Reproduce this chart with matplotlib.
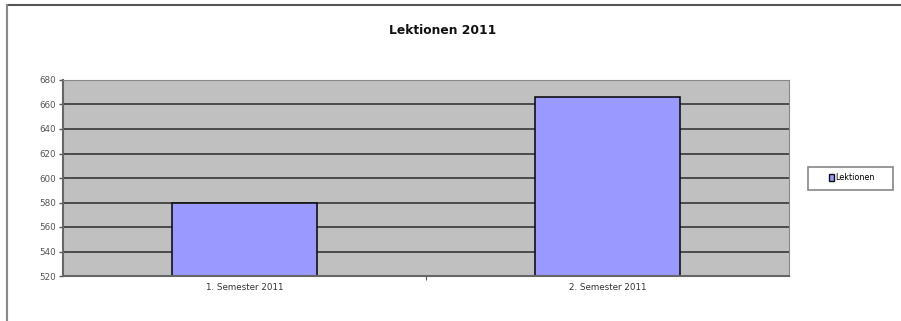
import matplotlib.pyplot as plt
from matplotlib.patches import Patch, Rectangle
from matplotlib.lines import Line2D

categories = ["1. Semester 2011", "2. Semester 2011"]
lektionen = [580, 666]
y_ticks = [520, 540, 560, 580, 600, 620, 640, 660, 680]

fig = plt.figure(figsize=(9.01, 3.21), dpi=100)
ax = fig.add_axes([63/901, 45/321, 726/901, 196/321])

ax.set_facecolor("#c0c0c0")
ax.set_axisbelow(True)
ax.yaxis.grid(True, color="#4a4a4a", linewidth=1.4)

x = range(len(categories))
ax.bar(x, lektionen, width=0.4, color="#9999ff", edgecolor="#111111", linewidth=1.2)

ax.set_xlim(-0.5, 1.5)
ax.set_ylim(520, 680)
ax.set_yticks(y_ticks)
ax.tick_params(axis="y", labelsize=6.3, colors="#555555", length=3, width=1, pad=2)

ax.set_xticks([0.5])
ax.set_xticklabels([""])
ax.set_xticks(list(x), minor=True)
ax.set_xticklabels(categories, minor=True)
ax.tick_params(axis="x", which="major", length=3, color="#555555")
ax.tick_params(axis="x", which="minor", length=0, labelsize=6.3, labelcolor="#333333", pad=5)

for side in ["top", "right"]:
    ax.spines[side].set_color("#888888")
for side in ["left", "bottom"]:
    ax.spines[side].set_color("#666666")
    ax.spines[side].set_linewidth(1.5)

fig.text(443/901, 1 - 30/321, "Lektionen 2011", ha="center", va="center",
         fontsize=8.8, fontweight="bold", color="#111111")

# legend box
fig.add_artist(Rectangle((808/901, 1 - 190/321), 85/901, 23/321, transform=fig.transFigure,
                         facecolor="white", edgecolor="#888888", linewidth=1.2))
handles = [Patch(facecolor="#9999ff", edgecolor="#111111", label="Lektionen")]
leg = fig.legend(handles=handles, loc="center", bbox_to_anchor=(852/901, 1 - 178/321),
                 fontsize=5.8, frameon=False, handlelength=0.6,
                 handleheight=0.9, handletextpad=0.2)

# chart border on top and left
fig.add_artist(Line2D([7/901, 1], [1 - 5/321, 1 - 5/321], color="#555555", linewidth=1.5))
fig.add_artist(Line2D([7/901, 7/901], [0, 1 - 5/321], color="#888888", linewidth=1.5))

plt.savefig("out.png", dpi=100)
